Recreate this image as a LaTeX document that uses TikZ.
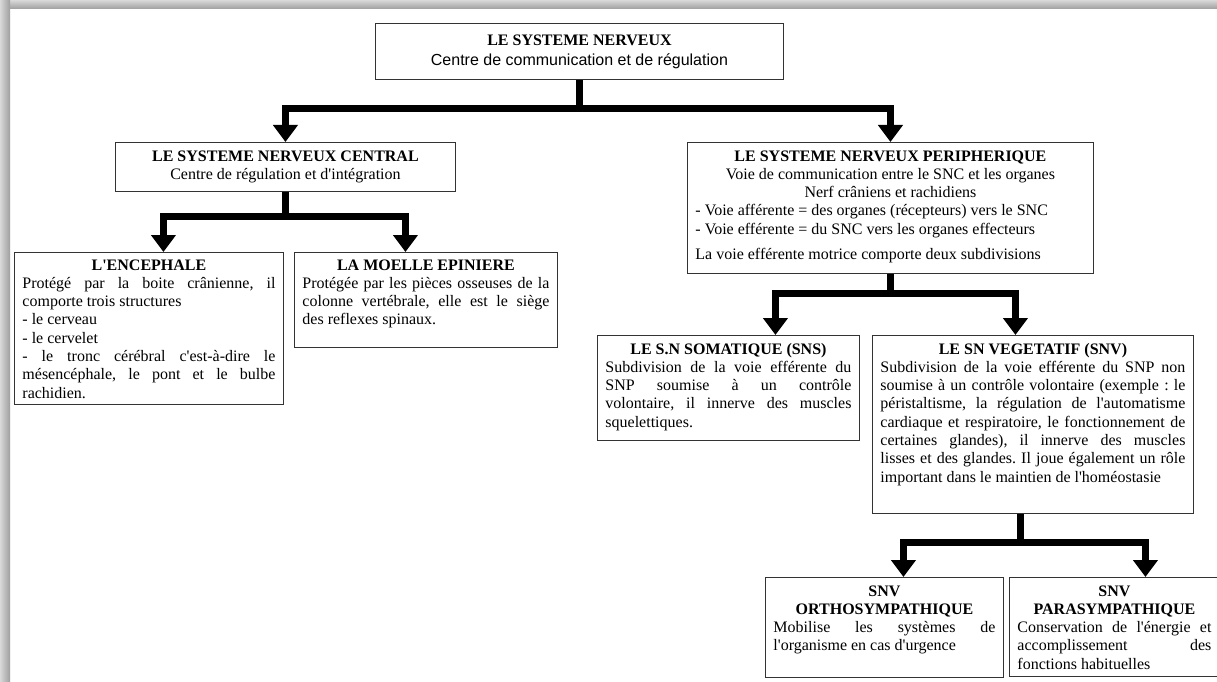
\documentclass[tikz,border=0pt]{standalone}
\usepackage{fontspec}
\setmainfont{Liberation Serif}[Ligatures=TeXOff]
\newfontfamily\arialf{Liberation Sans}
\usetikzlibrary{arrows.meta}
\newcommand\jl[1]{\hbox to\hsize{\strut#1}}
\newcommand\lft[1]{\hbox to\hsize{\strut#1\hfil}}
\newcommand\ctr[1]{\hbox to\hsize{\hfil\strut#1\hfil}}
\newcommand\ttl[1]{\ctr{\bfseries #1}}
\newcommand\tb[2]{\vbox{\hsize=#1\relax #2}}
\begin{document}
\begin{tikzpicture}[x=1pt,y=-1pt,
  box/.style={draw=black!80, line width=0.9pt, anchor=north west, inner sep=0pt},
  txt/.style={anchor=north, inner sep=0pt, font=\fontsize{16}{18.3}\selectfont\frenchspacing},
  conn/.style={line width=7pt, -{Triangle[width=24pt,length=17pt]}}]
\useasboundingbox (0,0) rectangle (1217,682);
\fill[white] (0,0) rectangle (1217,682);
\shade[top color=black!15, bottom color=black!38] (0,0) rectangle (1217,9);
\shade[left color=black!15, right color=black!38] (0,0) rectangle (10,682);

% top level
\node[box, minimum width=408pt, minimum height=56pt, align=center,
  font=\fontsize{16}{20}\selectfont] (top) at (375,23)
  {\textbf{LE SYSTEME NERVEUX}\\{\arialf Centre de communication et de régulation}};

\node[box, minimum width=340pt, minimum height=49pt, align=center,
  font=\fontsize{16}{18}\selectfont] (snc) at (115,142)
  {\textbf{LE SYSTEME NERVEUX CENTRAL}\\Centre de régulation et d'intégration};

% encephale
\node[box, minimum width=269pt, minimum height=152pt] (enc) at (14,252) {};
\node[txt] (enc-t) at ([yshift=-5pt]enc.north) {\tb{253pt}{%
\ttl{L'ENCEPHALE}
\jl{Protégé par la boite crânienne, il}
\lft{comporte trois structures}
\lft{- le cerveau}
\lft{- le cervelet}
\jl{- le tronc cérébral c'est-à-dire le}
\jl{mésencéphale, le pont et le bulbe}
\lft{rachidien.}}};

% moelle
\node[box, minimum width=263pt, minimum height=95pt] (moe) at (294,252) {};
\node[txt] (moe-t) at ([yshift=-5pt]moe.north) {\tb{247pt}{%
\ttl{LA MOELLE EPINIERE}
\jl{Protégée par les pièces osseuses de la}
\jl{colonne vertébrale, elle est le siège}
\lft{des reflexes spinaux.}}};

% SNP
\node[box, minimum width=406pt, minimum height=131pt] (snp) at (687,142) {};
\node[txt] (snp-t) at ([yshift=-6pt]snp.north) {\tb{390pt}{%
\ttl{LE SYSTEME NERVEUX PERIPHERIQUE}
\ctr{Voie de communication entre le SNC et les organes}
\ctr{Nerf crâniens et rachidiens}
\lft{- Voie afférente = des organes (récepteurs) vers le SNC}
\lft{- Voie efférente = du SNC vers les organes effecteurs}
\vskip 7pt
\lft{La voie efférente motrice comporte deux subdivisions}}};

% SNS
\node[box, minimum width=262pt, minimum height=105pt] (sns) at (597,335) {};
\node[txt] (sns-t) at ([yshift=-6pt]sns.north) {\tb{246pt}{%
\ttl{LE S.N SOMATIQUE (SNS)}
\jl{Subdivision de la voie efférente du}
\jl{SNP soumise à un contrôle}
\jl{volontaire, il innerve des muscles}
\lft{squelettiques.}}};

% SNV
\node[box, minimum width=321pt, minimum height=178pt] (snv) at (872,335) {};
\node[txt] (snv-t) at ([yshift=-6pt]snv.north) {\tb{305pt}{%
\ttl{LE SN VEGETATIF (SNV)}
\jl{Subdivision de la voie efférente du SNP non}
\jl{soumise à un contrôle volontaire (exemple : le}
\jl{péristaltisme, la régulation de l'automatisme}
\jl{cardiaque et respiratoire, le fonctionnement de}
\jl{certaines glandes), il innerve des muscles}
\jl{lisses et des glandes. Il joue également un rôle}
\lft{important dans le maintien de l'homéostasie}}};

% ortho
\node[box, minimum width=238pt, minimum height=100pt] (ortho) at (765,577) {};
\node[txt] (ortho-t) at ([yshift=-6pt]ortho.north) {\tb{222pt}{%
\ttl{SNV}
\ttl{ORTHOSYMPATHIQUE}
\jl{Mobilise les systèmes de}
\lft{l'organisme en cas d'urgence}}};

% para
\node[box, minimum width=210pt, minimum height=99pt] (para) at (1009,577) {};
\node[txt] (para-t) at ([yshift=-6pt]para.north) {\tb{194pt}{%
\ttl{SNV}
\ttl{PARASYMPATHIQUE}
\jl{Conservation de l'énergie et}
\jl{accomplissement des}
\lft{fonctions habituelles}}};

% connectors
\draw[conn] (top.south) -- ++(0,29) -| (snc.north);
\draw[conn] (top.south) -- ++(0,29) -| (snp.north);
\draw[conn] (snc.south) -- ++(0,25) -| ([xshift=14.5pt]enc.north);
\draw[conn] (snc.south) -- ++(0,25) -| ([xshift=-20.5pt]moe.north);
\draw[conn] (snp.south) -- ++(0,20) -| ([xshift=47pt]sns.north);
\draw[conn] (snp.south) -- ++(0,20) -| ([xshift=-17.5pt]snv.north);
\draw[conn] ([xshift=-12pt]snv.south) -- ++(0,29) -| ([xshift=19pt]ortho.north);
\draw[conn] ([xshift=-12pt]snv.south) -- ++(0,29) -| ([xshift=31pt]para.north);
\end{tikzpicture}
\end{document}
